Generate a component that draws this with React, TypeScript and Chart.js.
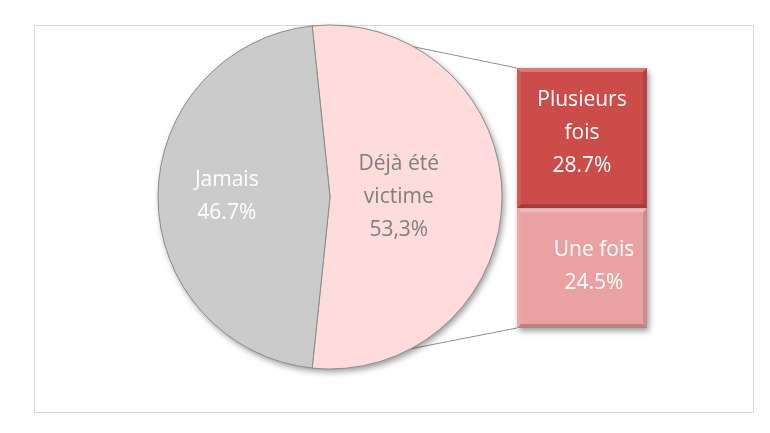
import { useEffect, useRef } from "react";
import { Chart, registerables } from "chart.js";

Chart.register(...registerables);

// pie : split of "déjà été victime" vs "jamais"
const pieCategories = ["Déjà été victime", "Jamais"];
const pieValues = [53.3, 46.7];
const pieValueLabels = ["53,3%", "46.7%"];
const pieLabelLines = [["Déjà été", "victime"], ["Jamais"]];

// bar : detail of "déjà été victime" (bottom to top)
const barCategories = ["Une fois", "Plusieurs fois"];
const barValues = [24.5, 28.7];
const barValueLabels = ["24.5%", "28.7%"];
const barLabelLines = [["Une fois"], ["Plusieurs", "fois"]];

const PIE_COLORS = ["#fddcdb", "#cbcbcb"];
const PIE_TEXT = ["#7f7f7f", "#ffffff"];
const BAR_COLORS = ["#e9a2a1", "#cc4c49"];

const FONT = "'Open Sans', 'Noto Sans', sans-serif";
const LINE_H = 33;

const PIE_LEFT = 140;
const PIE_TOP = 7;
const PIE_SIZE = 380;
const BAR_LEFT = 507;
const BAR_TOP = 58;

const drawLines = (ctx: CanvasRenderingContext2D, lines: string[], x: number, y: number, color: string) => {
  ctx.save();
  ctx.fillStyle = color;
  ctx.font = `400 21px ${FONT}`;
  ctx.textAlign = "center";
  ctx.textBaseline = "middle";
  const start = y - ((lines.length - 1) * LINE_H) / 2;
  lines.forEach((l, i) => ctx.fillText(l, x, start + i * LINE_H));
  ctx.restore();
};

export default function App() {
  const overlayRef = useRef<HTMLCanvasElement>(null);
  const pieRef = useRef<HTMLCanvasElement>(null);
  const barRef = useRef<HTMLCanvasElement>(null);

  useEffect(() => {
    if (!pieRef.current || !barRef.current || !overlayRef.current) return;

    // rotate so the split slice is centred on the right side
    const total = pieValues.reduce((a, b) => a + b, 0);
    const rotation = 90 - (pieValues[0] / total) * 180;
    const labelRadius = [0.4, 0.6];

    const pie = new Chart(pieRef.current, {
      type: "pie",
      data: {
        labels: pieCategories,
        datasets: [
          {
            data: pieValues,
            backgroundColor: PIE_COLORS,
            borderColor: "#8c8c8c",
            borderWidth: 1,
          },
        ],
      },
      options: {
        animation: false,
        responsive: false,
        rotation,
        radius: 172,
        layout: { padding: 0 },
        plugins: { legend: { display: false }, tooltip: { enabled: false } },
      },
      plugins: [
        {
          id: "pieShadow",
          beforeDatasetsDraw(chart: any) {
            const arc: any = chart.getDatasetMeta(0).data[0];
            const ctx = chart.ctx;
            ctx.save();
            ctx.shadowColor = "rgba(0,0,0,0.4)";
            ctx.shadowBlur = 6;
            ctx.shadowOffsetX = 2;
            ctx.shadowOffsetY = 3;
            ctx.fillStyle = "#bbbbbb";
            ctx.beginPath();
            ctx.arc(arc.x, arc.y, arc.outerRadius, 0, Math.PI * 2);
            ctx.fill();
            ctx.restore();
          },
          afterDatasetsDraw(chart: any) {
            chart.getDatasetMeta(0).data.forEach((arc: any, i: number) => {
              const mid = (arc.startAngle + arc.endAngle) / 2;
              const r = arc.outerRadius * labelRadius[i];
              drawLines(
                chart.ctx,
                [...pieLabelLines[i], pieValueLabels[i]],
                arc.x + Math.cos(mid) * r,
                arc.y + Math.sin(mid) * r,
                PIE_TEXT[i]
              );
            });
          },
        },
      ],
    });

    const barOffsets = [
      { dx: 12, dy: -2 },
      { dx: 0, dy: -5 },
    ];

    const bar = new Chart(barRef.current, {
      type: "bar",
      data: {
        labels: [""],
        datasets: barCategories.map((c, i) => ({
          label: c,
          data: [barValues[i]],
          backgroundColor: BAR_COLORS[i],
          borderWidth: 0,
          barPercentage: 1,
          categoryPercentage: 1,
        })),
      },
      options: {
        animation: false,
        responsive: false,
        layout: { padding: 10 },
        scales: {
          x: { stacked: true, display: false },
          y: {
            stacked: true,
            display: false,
            min: 0,
            max: barValues.reduce((a, b) => a + b, 0),
          },
        },
        plugins: { legend: { display: false }, tooltip: { enabled: false } },
      },
      plugins: [
        {
          id: "barDeco",
          beforeDatasetsDraw(chart: any) {
            const a = chart.chartArea;
            const ctx = chart.ctx;
            ctx.save();
            ctx.shadowColor = "rgba(0,0,0,0.4)";
            ctx.shadowBlur = 6;
            ctx.shadowOffsetX = 2;
            ctx.shadowOffsetY = 3;
            ctx.fillStyle = "#999";
            ctx.fillRect(a.left, a.top, a.right - a.left, a.bottom - a.top);
            ctx.restore();
          },
          afterDatasetsDraw(chart: any) {
            const ctx = chart.ctx;
            chart.data.datasets.forEach((_: any, i: number) => {
              const el: any = chart.getDatasetMeta(i).data[0];
              const l = el.x - el.width / 2;
              const r = el.x + el.width / 2;
              const t = el.y;
              const b = el.base;
              const k = 4;
              const poly = (pts: number[][], fill: string) => {
                ctx.save();
                ctx.fillStyle = fill;
                ctx.beginPath();
                pts.forEach((p, j) => (j ? ctx.lineTo(p[0], p[1]) : ctx.moveTo(p[0], p[1])));
                ctx.closePath();
                ctx.fill();
                ctx.restore();
              };
              poly([[l, t], [r, t], [r - k, t + k], [l + k, t + k]], "rgba(255,255,255,0.25)");
              poly([[l, t], [l + k, t + k], [l + k, b - k], [l, b]], "rgba(255,255,255,0.08)");
              poly([[r, t], [r, b], [r - k, b - k], [r - k, t + k]], "rgba(0,0,0,0.12)");
              poly([[l, b], [l + k, b - k], [r - k, b - k], [r, b]], "rgba(0,0,0,0.2)");
              drawLines(
                ctx,
                [...barLabelLines[i], barValueLabels[i]],
                el.x + barOffsets[i].dx,
                (t + b) / 2 + barOffsets[i].dy,
                "#ffffff"
              );
            });
          },
        },
      ],
    });

    // connector lines from the split slice to the bar
    const arc: any = pie.getDatasetMeta(0).data[0];
    const topEl: any = bar.getDatasetMeta(1).data[0];
    const botEl: any = bar.getDatasetMeta(0).data[0];
    const p1 = [
      PIE_LEFT + arc.x + arc.outerRadius * Math.cos(arc.startAngle),
      PIE_TOP + arc.y + arc.outerRadius * Math.sin(arc.startAngle),
    ];
    const p2 = [
      PIE_LEFT + arc.x + arc.outerRadius * Math.cos(arc.endAngle),
      PIE_TOP + arc.y + arc.outerRadius * Math.sin(arc.endAngle),
    ];
    const b1 = [BAR_LEFT + topEl.x - topEl.width / 2, BAR_TOP + topEl.y];
    const b2 = [BAR_LEFT + botEl.x - botEl.width / 2, BAR_TOP + botEl.base];
    const octx = overlayRef.current.getContext("2d")!;
    octx.clearRect(0, 0, 770, 433);
    octx.strokeStyle = "#8f8f8f";
    octx.lineWidth = 1;
    octx.beginPath();
    octx.moveTo(p1[0], p1[1]);
    octx.lineTo(b1[0], b1[1]);
    octx.moveTo(p2[0], p2[1]);
    octx.lineTo(b2[0], b2[1]);
    octx.stroke();

    return () => {
      pie.destroy();
      bar.destroy();
    };
  }, []);

  return (
    <div style={{ position: "fixed", left: 0, top: 0, width: 770, height: 433, background: "#fff" }}>
      <div
        style={{
          position: "absolute",
          left: 34,
          top: 25,
          width: 720,
          height: 388,
          boxSizing: "border-box",
          border: "1px solid #d9d9d9",
        }}
      />
      <canvas ref={overlayRef} width={770} height={433} style={{ position: "absolute", left: 0, top: 0 }} />
      <canvas
        ref={pieRef}
        width={PIE_SIZE}
        height={PIE_SIZE}
        style={{ position: "absolute", left: PIE_LEFT, top: PIE_TOP, width: PIE_SIZE, height: PIE_SIZE }}
      />
      <canvas
        ref={barRef}
        width={150}
        height={280}
        style={{ position: "absolute", left: BAR_LEFT, top: BAR_TOP, width: 150, height: 280 }}
      />
    </div>
  );
}
